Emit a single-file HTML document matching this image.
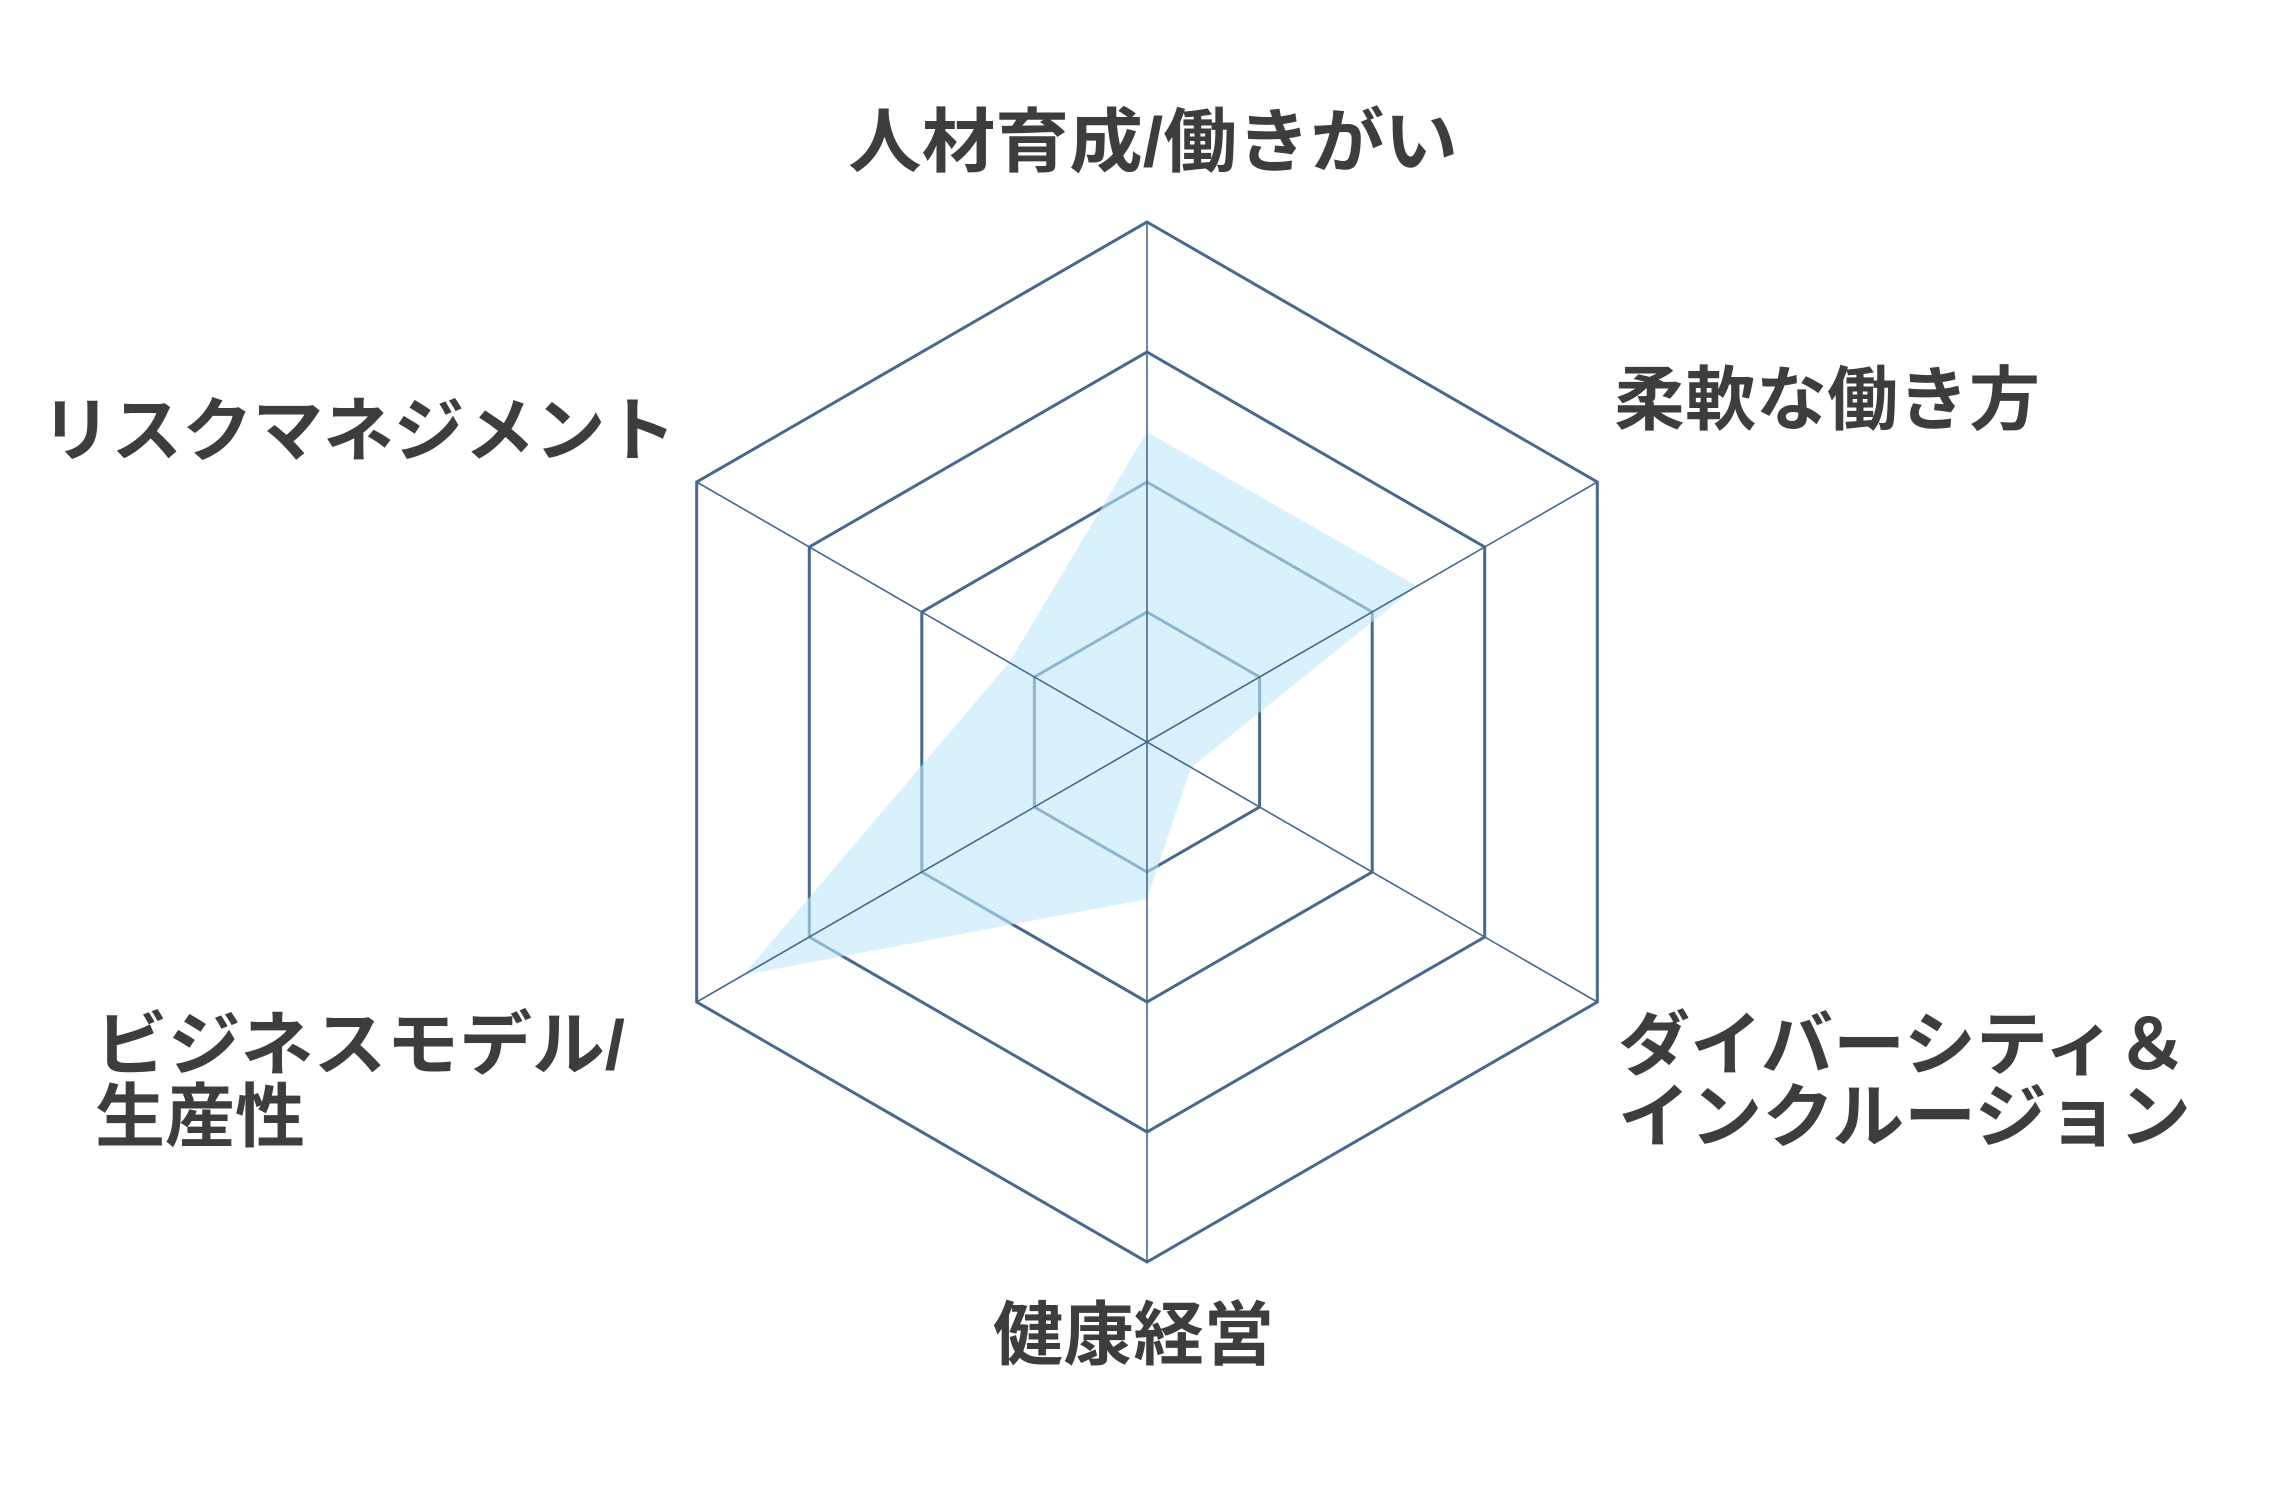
<!DOCTYPE html>
<html><head><meta charset="utf-8"><style>
html,body{margin:0;padding:0;background:#fff;}
svg{display:block;}
text{font-family:"Liberation Sans","Noto Sans CJK JP",sans-serif;font-weight:bold;fill:#3d3d3d;font-size:70px;}
</style></head><body>
<svg width="2285" height="1510" viewBox="0 0 2285 1510" xmlns="http://www.w3.org/2000/svg">
<g fill="none" stroke="#46698f" stroke-width="3" stroke-linejoin="miter">
<polygon points="1147,222 1597.3,482 1597.3,1002 1147,1262 696.7,1002 696.7,482"/>
<polygon points="1147,352 1484.7,547 1484.7,937 1147,1132 809.3,937 809.3,547"/>
<polygon points="1147,482 1372.2,612 1372.2,872 1147,1002 921.8,872 921.8,612"/>
<polygon points="1147,612 1259.6,677 1259.6,807 1147,872 1034.4,807 1034.4,677"/>
</g>
<polygon points="1147,432 1417,586 1191,767.5 1147,899 743.4,975 1009.3,662.5" fill="#bee8fc" fill-opacity="0.6"/>
<g stroke="#46698f" stroke-width="1.6">
<line x1="1147" y1="222" x2="1147" y2="1262"/>
<line x1="1597.3" y1="482" x2="696.7" y2="1002"/>
<line x1="1597.3" y1="1002" x2="696.7" y2="482"/>
</g>
<text x="1153" y="166" text-anchor="middle" textLength="610" lengthAdjust="spacingAndGlyphs">人材育成/働きがい</text>
<text x="1614" y="424" textLength="426" lengthAdjust="spacingAndGlyphs">柔軟な働き方</text>
<text x="41" y="455" textLength="635" lengthAdjust="spacingAndGlyphs">リスクマネジメント</text>
<text x="95" y="1069" textLength="530" lengthAdjust="spacingAndGlyphs">ビジネスモデル/</text>
<text x="95" y="1141" textLength="210" lengthAdjust="spacingAndGlyphs">生産性</text>
<text x="1618" y="1069" textLength="570" lengthAdjust="spacingAndGlyphs">ダイバーシティ＆</text>
<text x="1618" y="1141" textLength="573" lengthAdjust="spacingAndGlyphs">インクルージョン</text>
<text x="993" y="1359" textLength="281" lengthAdjust="spacingAndGlyphs">健康経営</text>
</svg>
</body></html>
